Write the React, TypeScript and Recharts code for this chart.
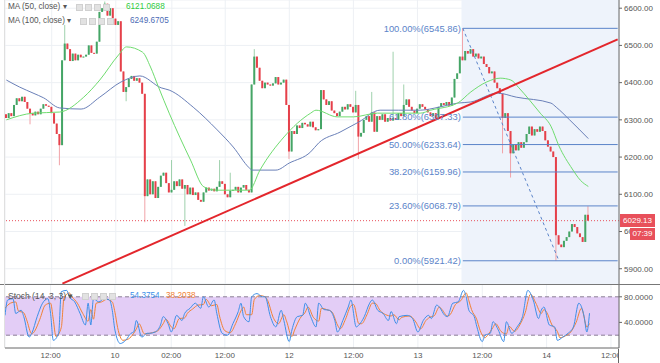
import React from "react";
import {
  Bar,
  CartesianGrid,
  ComposedChart,
  Line,
  ReferenceArea,
  ReferenceLine,
  XAxis,
  YAxis
} from "recharts";

// 30 minute candles, index based time axis (slots after the last candle are empty)
const SLOTS = 230;
const firstOpen = 6315;
const closes = [
  6305, 6318, 6310, 6340, 6358, 6350, 6362, 6348, 6330, 6318,
  6312, 6322, 6315, 6330, 6342, 6338, 6335, 6318, 6290, 6262,
  6232, 6460, 6505, 6490, 6458, 6478, 6460, 6475, 6468, 6470,
  6475, 6500, 6480, 6478, 6510, 6590, 6600, 6612, 6580, 6600,
  6572, 6555, 6565, 6430, 6375, 6388, 6410, 6418, 6405, 6412,
  6400, 6370, 6095, 6140, 6100, 6135, 6090, 6120, 6150, 6158,
  6130, 6105, 6112, 6135, 6122, 6140, 6115, 6125, 6100, 6118,
  6098, 6105, 6085, 6080, 6105, 6118, 6110, 6115, 6108, 6120,
  6135, 6128, 6100, 6092, 6110, 6112, 6120, 6105, 6118, 6125,
  6112, 6105, 6395, 6470, 6440, 6405, 6385, 6400, 6395, 6392,
  6398, 6415, 6395, 6400, 6408, 6340, 6215, 6270, 6262, 6285,
  6278, 6292, 6288, 6282, 6295, 6280, 6272, 6275, 6380, 6355,
  6340, 6350, 6325, 6318, 6310, 6322, 6335, 6328, 6342, 6335,
  6320, 6340, 6255, 6265, 6300, 6310, 6295, 6320, 6268, 6310,
  6300, 6315, 6295, 6305, 6298, 6305, 6300, 6318, 6310, 6340,
  6355, 6335, 6325, 6318, 6330, 6342, 6335, 6328, 6320, 6310,
  6318, 6305, 6335, 6345, 6340, 6348, 6338, 6360, 6410, 6425,
  6470, 6460, 6485, 6478, 6490, 6470, 6478, 6465, 6470, 6450,
  6442, 6425, 6430, 6400, 6385, 6370, 6305, 6318, 6270, 6210,
  6235, 6218, 6240, 6225, 6240, 6262, 6282, 6258, 6275, 6268,
  6282, 6270, 6245, 6228, 6215, 6200, 5990, 5965, 5958, 5975,
  5985, 6000, 6020, 6012, 5995, 5985, 5972, 6045, 6029.13
];
// [candle index, price] for the visible long wicks
const highWicks: [number, number][] = [
  [22, 6555], [37, 6618], [62, 6192], [80, 6192], [84, 6158], [93, 6490],
  [131, 6378], [137, 6375], [145, 6483], [149, 6395], [171, 6545.86], [218, 6068]
];
const lowWicks: [number, number][] = [
  [9, 6288], [20, 6178], [45, 6350], [52, 6025], [67, 6015], [106, 6195],
  [132, 6195], [186, 6210], [189, 6145], [206, 5921.42]
];

const ma50Points: [number, number][] = [
  [0, 6300], [10, 6318], [20, 6321], [29, 6361], [35, 6407], [42, 6474], [45, 6496],
  [51, 6482], [54, 6442], [57, 6388], [61, 6318], [69, 6192], [74, 6120], [79, 6111],
  [91, 6111], [95, 6165], [104, 6254], [114, 6318], [116, 6326], [124, 6308],
  [130, 6308], [139, 6318], [147, 6318], [155, 6318], [159, 6326], [169, 6345],
  [174, 6375], [180, 6402], [185, 6412], [189, 6407], [192, 6386], [196, 6353],
  [200, 6318], [204, 6283], [207, 6230], [212, 6168], [215, 6138], [218, 6121.07]
];
const ma100Points: [number, number][] = [
  [0, 6407], [5, 6388], [10, 6372], [14, 6359], [20, 6332], [28, 6329], [35, 6361],
  [43, 6402], [50, 6418], [58, 6386], [61, 6380], [70, 6334], [79, 6273], [85, 6227],
  [91, 6171], [92, 6165], [101, 6165], [106, 6184], [114, 6214], [117, 6238],
  [125, 6267], [132, 6294], [140, 6326], [147, 6326], [155, 6326], [162, 6334],
  [169, 6345], [174, 6348], [184, 6372], [191, 6361], [204, 6345], [206, 6334],
  [211, 6300], [218, 6249.67]
];

const stochK: [number, number][] = [
  [0, 51], [1, 75], [3, 77], [4, 54], [6, 59], [7, 49], [9, 17], [10, 23], [12, 49],
  [14, 70], [16, 77], [17, 54], [18, 12], [20, 23], [21, 88], [23, 90], [24, 80],
  [26, 72], [28, 54], [30, 36], [31, 70], [32, 36], [33, 77], [35, 72], [37, 77],
  [39, 75], [40, 59], [41, 28], [43, 7], [45, 12], [47, 23], [48, 25], [49, 43],
  [51, 17], [53, 23], [54, 23], [56, 25], [58, 36], [59, 49], [61, 36], [62, 25],
  [64, 51], [66, 43], [67, 54], [69, 62], [71, 70], [73, 62], [74, 80], [76, 64],
  [78, 75], [79, 54], [81, 23], [83, 20], [85, 38], [87, 57], [88, 70], [89, 49],
  [91, 41], [92, 80], [94, 85], [96, 80], [97, 80], [99, 49], [101, 33], [103, 59],
  [104, 43], [106, 10], [107, 28], [109, 49], [111, 51], [112, 70], [114, 49],
  [116, 33], [117, 70], [119, 60], [121, 59], [123, 43], [124, 25], [126, 43],
  [128, 64], [129, 75], [131, 33], [132, 36], [134, 49], [136, 70], [137, 75],
  [139, 59], [141, 54], [143, 43], [144, 57], [146, 38], [147, 49], [150, 51],
  [152, 46], [154, 25], [156, 43], [158, 51], [159, 46], [161, 67], [162, 64],
  [164, 51], [165, 49], [167, 70], [169, 72], [171, 90], [172, 80], [173, 59],
  [175, 49], [176, 33], [178, 10], [179, 20], [181, 23], [182, 41], [184, 28],
  [186, 10], [187, 41], [189, 23], [191, 33], [193, 49], [195, 90], [197, 75],
  [199, 46], [200, 59], [201, 64], [203, 36], [205, 33], [206, 12], [208, 17],
  [210, 23], [212, 33], [214, 70], [216, 49], [217, 25], [218, 54.38]
];
const stochD: [number, number][] = [
  [0, 62], [2, 70], [4, 72], [5, 58], [7, 55], [8, 45], [10, 22], [11, 26], [13, 45],
  [15, 67], [17, 70], [18, 45], [19, 18], [21, 32], [22, 78], [24, 86], [25, 80],
  [27, 70], [29, 54], [31, 42], [32, 60], [33, 45], [34, 70], [36, 72], [38, 76],
  [40, 72], [41, 56], [42, 32], [44, 12], [46, 14], [48, 23], [49, 30], [50, 38],
  [52, 22], [54, 23], [55, 24], [57, 27], [59, 38], [60, 45], [62, 33], [63, 30],
  [65, 46], [67, 47], [68, 54], [70, 61], [72, 67], [74, 68], [75, 76], [77, 66],
  [79, 68], [80, 50], [82, 27], [84, 24], [86, 38], [88, 58], [89, 64], [90, 52],
  [92, 52], [93, 76], [95, 82], [97, 80], [98, 74], [100, 48], [102, 38], [104, 52],
  [105, 42], [107, 18], [108, 28], [110, 46], [112, 56], [113, 64], [115, 48],
  [117, 42], [118, 62], [120, 60], [122, 56], [124, 36], [125, 30], [127, 45],
  [129, 66], [130, 68], [132, 38], [133, 38], [135, 52], [137, 70], [138, 70],
  [140, 58], [142, 52], [144, 50], [145, 52], [147, 44], [148, 48], [151, 50],
  [153, 42], [155, 30], [157, 43], [159, 49], [160, 50], [162, 64], [163, 60],
  [165, 50], [166, 52], [168, 68], [170, 74], [172, 86], [173, 74], [174, 60],
  [176, 44], [177, 30], [179, 16], [180, 20], [182, 32], [183, 38], [185, 26],
  [187, 22], [188, 34], [190, 26], [192, 36], [194, 55], [196, 84], [198, 70],
  [200, 54], [201, 60], [202, 56], [204, 36], [206, 26], [207, 16], [209, 19],
  [211, 25], [213, 40], [215, 62], [217, 33], [218, 38.2]
];

const priceTicks = [5900, 6000, 6100, 6200, 6300, 6400, 6500, 6600];
const stochTicks = [40, 80];
const timeTicks = [17, 41, 62, 82, 106, 130, 154, 178, 202, 226];
const timeLabels = ["12:00", "10", "02:00", "12:00", "12", "12:00", "13", "12:00", "14", "12:00"];

const fibLevels = [
  { pct: "100.00%", value: 6545.86 },
  { pct: "61.80%", value: 6307.33 },
  { pct: "50.00%", value: 6233.64 },
  { pct: "38.20%", value: 6159.96 },
  { pct: "23.60%", value: 6068.79 },
  { pct: "0.00%", value: 5921.42 }
];
const fibStart = 171;
const fibEnd = 229;
const fibLowIndex = 207;
const trendLine = [
  { x: 21, y: 5860 },
  { x: 229, y: 6516 }
];
const lastPrice = 6029.13;
const countdown = "07:39";
const ma50Last = 6121.0688;
const ma100Last = 6249.6705;
const stochKLast = 54.3754;
const stochDLast = 38.2038;

const PRICE_DOMAIN: [number, number] = [5859, 6622];
const PRICE_H = 284;

const UP = "#45a566";
const DOWN = "#e5404a";
const UP_WICK = "#9fd1ad";
const DOWN_WICK = "#f1a3a8";
const FIB = "#5b84c9";
const AXIS_TEXT = "#555";
const GRID = "#edf0f4";

const toMap = (pts: [number, number][]) => new Map(pts);
const hiMap = toMap(highWicks);
const loMap = toMap(lowWicks);
const ma50Map = toMap(ma50Points);
const ma100Map = toMap(ma100Points);
const kMap = toMap(stochK);
const dMap = toMap(stochD);

const rows = Array.from({ length: SLOTS }, (_, i) => {
  const row: any = { i };
  if (i < closes.length) {
    const o = i === 0 ? firstOpen : closes[i - 1];
    const c = closes[i];
    row.o = o;
    row.c = c;
    row.h = Math.max(o, c, hiMap.get(i) ?? c);
    row.l = Math.min(o, c, loMap.get(i) ?? c);
  }
  row.ma50 = ma50Map.get(i) ?? null;
  row.ma100 = ma100Map.get(i) ?? null;
  row.k = kMap.get(i) ?? null;
  row.d = dMap.get(i) ?? null;
  return row;
});

function Candle(props: any) {
  const { x, y, width, height, payload } = props;
  if (!payload || payload.c == null) return null;
  const { o, h, l, c } = payload;
  const top = Math.min(y, y + height);
  const span = Math.abs(height);
  const k = h > l ? span / (h - l) : 0;
  const py = (v: number) => top + (h - v) * k;
  const up = c >= o;
  const cx = x + width / 2;
  const bodyTop = py(Math.max(o, c));
  const bodyH = Math.max(1, py(Math.min(o, c)) - bodyTop);
  return (
    <g>
      <line x1={cx} x2={cx} y1={top} y2={top + span} stroke={up ? UP_WICK : DOWN_WICK} strokeWidth={1} />
      <rect x={x} y={bodyTop} width={width} height={bodyH} fill={up ? UP : DOWN} />
    </g>
  );
}

const timeFormat = (v: number) => timeLabels[timeTicks.indexOf(v)] ?? "";

const legendText: React.CSSProperties = {
  position: "absolute",
  fontSize: 8.2,
  color: AXIS_TEXT,
  whiteSpace: "nowrap",
  lineHeight: "10px"
};

function Boxes({ left, top }: { left: number; top: number }) {
  return (
    <>
      {[0, 1, 2, 3].map((n) => (
        <span
          key={n}
          style={{
            position: "absolute",
            left: left + n * 9,
            top,
            width: 7,
            height: 7,
            background: "#e2e2e2",
            border: "1px solid #d0d0d0",
            boxSizing: "border-box"
          }}
        />
      ))}
    </>
  );
}

export default function App() {
  const priceY = ((PRICE_DOMAIN[1] - lastPrice) / (PRICE_DOMAIN[1] - PRICE_DOMAIN[0])) * PRICE_H;
  return (
    <div
      style={{
        position: "relative",
        width: 660,
        height: 363,
        overflow: "hidden",
        background: "#fff",
        fontFamily: "'Liberation Sans', Arial, sans-serif"
      }}
    >
      <style>{"body{margin:0}"}</style>
      <div style={{ position: "absolute", left: 0, top: 0 }}>
        <ComposedChart width={660} height={285} data={rows} margin={{ top: 0, right: 0, bottom: 1, left: 5 }}>
          <CartesianGrid stroke={GRID} />
          <ReferenceArea x1={fibStart} x2={fibEnd} fill="#eef3fb" fillOpacity={1} stroke="none" />
          <XAxis dataKey="i" type="category" hide ticks={timeTicks} interval={0} />
          <YAxis
            orientation="right"
            width={41}
            domain={PRICE_DOMAIN}
            allowDataOverflow
            ticks={priceTicks}
            tickFormatter={(v: number) => v.toFixed(2)}
            tick={{ fontSize: 8, fill: AXIS_TEXT }}
            tickSize={3}
            tickMargin={2}
            tickLine={{ stroke: "#666" }}
            axisLine={{ stroke: "#666" }}
          />
          {fibLevels.map((f) => (
            <ReferenceLine
              key={f.pct}
              segment={[
                { x: fibStart, y: f.value },
                { x: fibEnd, y: f.value }
              ]}
              stroke={FIB}
              strokeWidth={1}
              label={{
                value: `${f.pct}(${f.value.toFixed(2)})`,
                position: "left",
                offset: 2,
                fill: FIB,
                fontSize: 9.4
              }}
            />
          ))}
          <ReferenceLine y={lastPrice} stroke="#e8505b" strokeDasharray="1 2" />
          <Bar dataKey={(d: any) => (d.c == null ? null : [d.l, d.h])} barSize={2} shape={Candle} isAnimationActive={false} />
          <Line dataKey="ma100" stroke="#6a80b8" strokeWidth={1} dot={false} connectNulls type="monotone" isAnimationActive={false} />
          <Line dataKey="ma50" stroke="#6fdc6f" strokeWidth={1} dot={false} connectNulls type="monotone" isAnimationActive={false} />
          <ReferenceLine
            segment={[
              { x: fibStart, y: fibLevels[0].value },
              { x: fibLowIndex, y: fibLevels[fibLevels.length - 1].value }
            ]}
            stroke={FIB}
            strokeDasharray="3 3"
          />
          <ReferenceLine segment={trendLine} stroke="#e3262c" strokeWidth={2} />
        </ComposedChart>
      </div>

      <div style={{ position: "absolute", left: 0, top: 284 }}>
        <ComposedChart width={660} height={79} data={rows} margin={{ top: 0, right: 0, bottom: 0, left: 5 }}>
          <CartesianGrid stroke={GRID} horizontal={false} />
          <ReferenceArea y1={20} y2={80} fill="#e3cdf6" fillOpacity={1} stroke="none" />
          <ReferenceLine y={80} stroke="#8c7f95" strokeDasharray="4 3" />
          <ReferenceLine y={20} stroke="#8c7f95" strokeDasharray="4 3" />
          <XAxis
            dataKey="i"
            type="category"
            ticks={timeTicks}
            interval={0}
            tickFormatter={timeFormat}
            height={15}
            tick={{ fontSize: 8, fill: AXIS_TEXT }}
            tickLine={false}
            tickSize={2}
            tickMargin={2}
            axisLine={{ stroke: "#666" }}
          />
          <YAxis
            orientation="right"
            width={41}
            domain={[0, 100]}
            ticks={stochTicks}
            tickFormatter={(v: number) => v.toFixed(4)}
            tick={{ fontSize: 8, fill: AXIS_TEXT }}
            tickSize={3}
            tickMargin={2}
            tickLine={{ stroke: "#666" }}
            axisLine={{ stroke: "#666" }}
          />
          <Line dataKey="d" stroke="#f08236" strokeWidth={1} dot={false} connectNulls type="monotone" isAnimationActive={false} />
          <Line dataKey="k" stroke="#3d8fe8" strokeWidth={1} dot={false} connectNulls type="monotone" isAnimationActive={false} />
        </ComposedChart>
      </div>

      {/* pane separator, left border, corner under the price scale */}
      <div style={{ position: "absolute", left: 0, top: 284, width: 660, height: 1, background: "#777" }} />
      <div style={{ position: "absolute", left: 4, top: 0, width: 1, height: 348, background: "#e0e0e0" }} />
      <div
        style={{
          position: "absolute",
          left: 618,
          top: 349,
          width: 42,
          height: 14,
          background: "#fff",
          borderLeft: "1px solid #666"
        }}
      />

      {/* last price tags */}
      <div
        style={{
          position: "absolute",
          left: 620,
          top: priceY - 7,
          width: 35,
          height: 13,
          background: "#e8505b",
          color: "#fff",
          fontSize: 8,
          lineHeight: "13px",
          textAlign: "center"
        }}
      >
        {lastPrice.toFixed(2)}
      </div>
      <div
        style={{
          position: "absolute",
          left: 630,
          top: priceY + 7,
          width: 25,
          height: 12,
          background: "#e8505b",
          color: "#fff",
          fontSize: 8,
          lineHeight: "12px",
          textAlign: "center"
        }}
      >
        {countdown}
      </div>

      {/* legends */}
      <span style={{ ...legendText, left: 8, top: 2 }}>MA (50, close) ▾</span>
      <Boxes left={76} top={4} />
      <span style={{ ...legendText, left: 126, top: 2, color: "#2ecc40" }}>{ma50Last.toFixed(4)}</span>
      <span style={{ ...legendText, left: 8, top: 16 }}>MA (100, close) ▾</span>
      <Boxes left={80} top={18} />
      <span style={{ ...legendText, left: 130, top: 16, color: "#4c6bb5" }}>{ma100Last.toFixed(4)}</span>
      <span style={{ ...legendText, left: 8, top: 291, fontSize: 8.5 }}>Stoch (14, 3, 3) ▾</span>
      <Boxes left={82} top={293} />
      <span style={{ ...legendText, left: 130, top: 291, color: "#3d8fe8" }}>{stochKLast.toFixed(4)}</span>
      <span style={{ ...legendText, left: 166, top: 291, color: "#f08236" }}>{stochDLast.toFixed(4)}</span>
    </div>
  );
}
